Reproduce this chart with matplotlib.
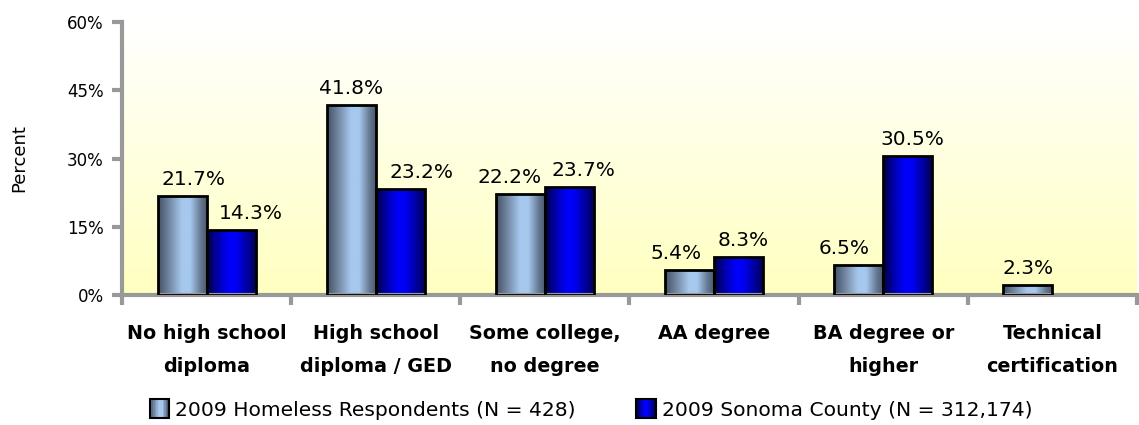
import numpy as np
import matplotlib
matplotlib.use("Agg")
import matplotlib.pyplot as plt
from matplotlib.colors import LinearSegmentedColormap
from matplotlib.legend_handler import HandlerBase
from matplotlib.patches import Rectangle

# Data
categories = ["No high school\ndiploma", "High school\ndiploma / GED", "Some college,\nno degree",
              "AA degree", "BA degree or\nhigher", "Technical\ncertification"]
homeless = [21.7, 41.8, 22.2, 5.4, 6.5, 2.3]
sonoma = [14.3, 23.2, 23.7, 8.3, 30.5, np.nan]
series_names = ["2009 Homeless Respondents (N = 428)", "2009 Sonoma County (N = 312,174)"]
yticks = [0, 15, 30, 45, 60]

# label nudges in pixels (Excel moved some labels to avoid overlap)
homeless_dx = [11, 0, -11, -13, -15, 0]
sonoma_dx = [20, 21, 14, 5, 5, 0]

plt.rcParams["font.family"] = ["DejaVu Sans"]

cmap_home = LinearSegmentedColormap.from_list(
    "home", [(0, "#445266"), (0.2, "#6e829c"), (0.48, "#a6c8ee"), (0.65, "#a6c8ee"),
             (0.85, "#687c96"), (1, "#46546a")])
cmap_son = LinearSegmentedColormap.from_list(
    "son", [(0, "#000040"), (0.2, "#0000a8"), (0.45, "#0000ff"), (0.6, "#0000f0"),
            (0.85, "#000090"), (1, "#000048")])
cmap_bg = LinearSegmentedColormap.from_list("bg", ["#ffffc0", "#ffffff"])

fig = plt.figure(figsize=(11.39, 4.25), dpi=100)
ax = fig.add_axes([0.1071, 0.3059, 0.8911, 0.6423])

x = np.arange(len(categories))
w = 0.29
grad = np.linspace(0, 1, 100)[None, :]

# background gradient (white at top, pale yellow at the bottom)
ax.imshow(np.linspace(0, 1, 100)[:, None], extent=[0, 1, 0, 1], transform=ax.transAxes,
          cmap=cmap_bg, aspect="auto", origin="lower", zorder=0)


def gradient_bars(xpos, vals, cmap, dxs):
    bars = ax.bar(xpos, vals, width=w, align="edge", facecolor="none",
                  edgecolor="black", linewidth=2, zorder=3)
    for b, v, dx in zip(bars, vals, dxs):
        if np.isnan(v):
            continue
        x0 = b.get_x()
        im = ax.imshow(grad, extent=[x0, x0 + b.get_width(), 0, v], cmap=cmap,
                       aspect="auto", interpolation="bilinear", zorder=2)
        im.set_clip_path(b)
        ax.annotate(f"{v:.1f}%", (x0 + b.get_width() / 2, v), xytext=(dx * 0.72, 5),
                    textcoords="offset points", ha="center", va="bottom", fontsize=14.5)


gradient_bars(x - w, homeless, cmap_home, homeless_dx)
gradient_bars(x, sonoma, cmap_son, sonoma_dx)

ax.set_xlim(-0.5, len(categories) - 0.5)
ax.set_ylim(0, 60)
ax.set_yticks(yticks)
ax.set_yticklabels([f"{t}%" for t in yticks], fontsize=12)
ax.set_ylabel("Percent", fontsize=13, labelpad=28)

ax.set_xticks(np.arange(len(categories) + 1) - 0.5)
ax.set_xticklabels([])
ax.set_xticks(x, minor=True)
ax.set_xticklabels(categories, minor=True, fontsize=13.8, fontweight="bold", linespacing=1.9)
ax.tick_params(axis="x", which="minor", length=0, pad=21)
ax.tick_params(axis="both", which="major", color="#999999", width=3, length=7)
ax.tick_params(axis="y", pad=6)

for s in ["top", "right"]:
    ax.spines[s].set_visible(False)
for s in ["left", "bottom"]:
    ax.spines[s].set_color("#999999")
    ax.spines[s].set_linewidth(3)


class GradHandler(HandlerBase):
    def __init__(self, cmap):
        super().__init__()
        self.cmap = cmap

    def create_artists(self, legend, orig, xd, yd, width, height, fontsize, trans):
        arts = []
        n = 12
        for i in range(n):
            arts.append(Rectangle((xd + width * i / n, yd - 2), width / n + 0.3, height + 4,
                                  facecolor=self.cmap((i + 0.5) / n), edgecolor="none",
                                  transform=trans))
        arts.append(Rectangle((xd, yd - 2), width, height + 4, facecolor="none",
                              edgecolor="black", linewidth=1.5, transform=trans))
        return arts


h1 = Rectangle((0, 0), 1, 1)
h2 = Rectangle((0, 0), 1, 1)
fig.legend([h1, h2], series_names, loc="center", bbox_to_anchor=(591 / 1139, 1 - 410 / 425),
           ncol=2, frameon=False, fontsize=14.6, handlelength=0.95, handleheight=0.7,
           handletextpad=0.3, columnspacing=3.0, borderpad=0,
           handler_map={h1: GradHandler(cmap_home), h2: GradHandler(cmap_son)})

fig.savefig("out.png", dpi=100)
